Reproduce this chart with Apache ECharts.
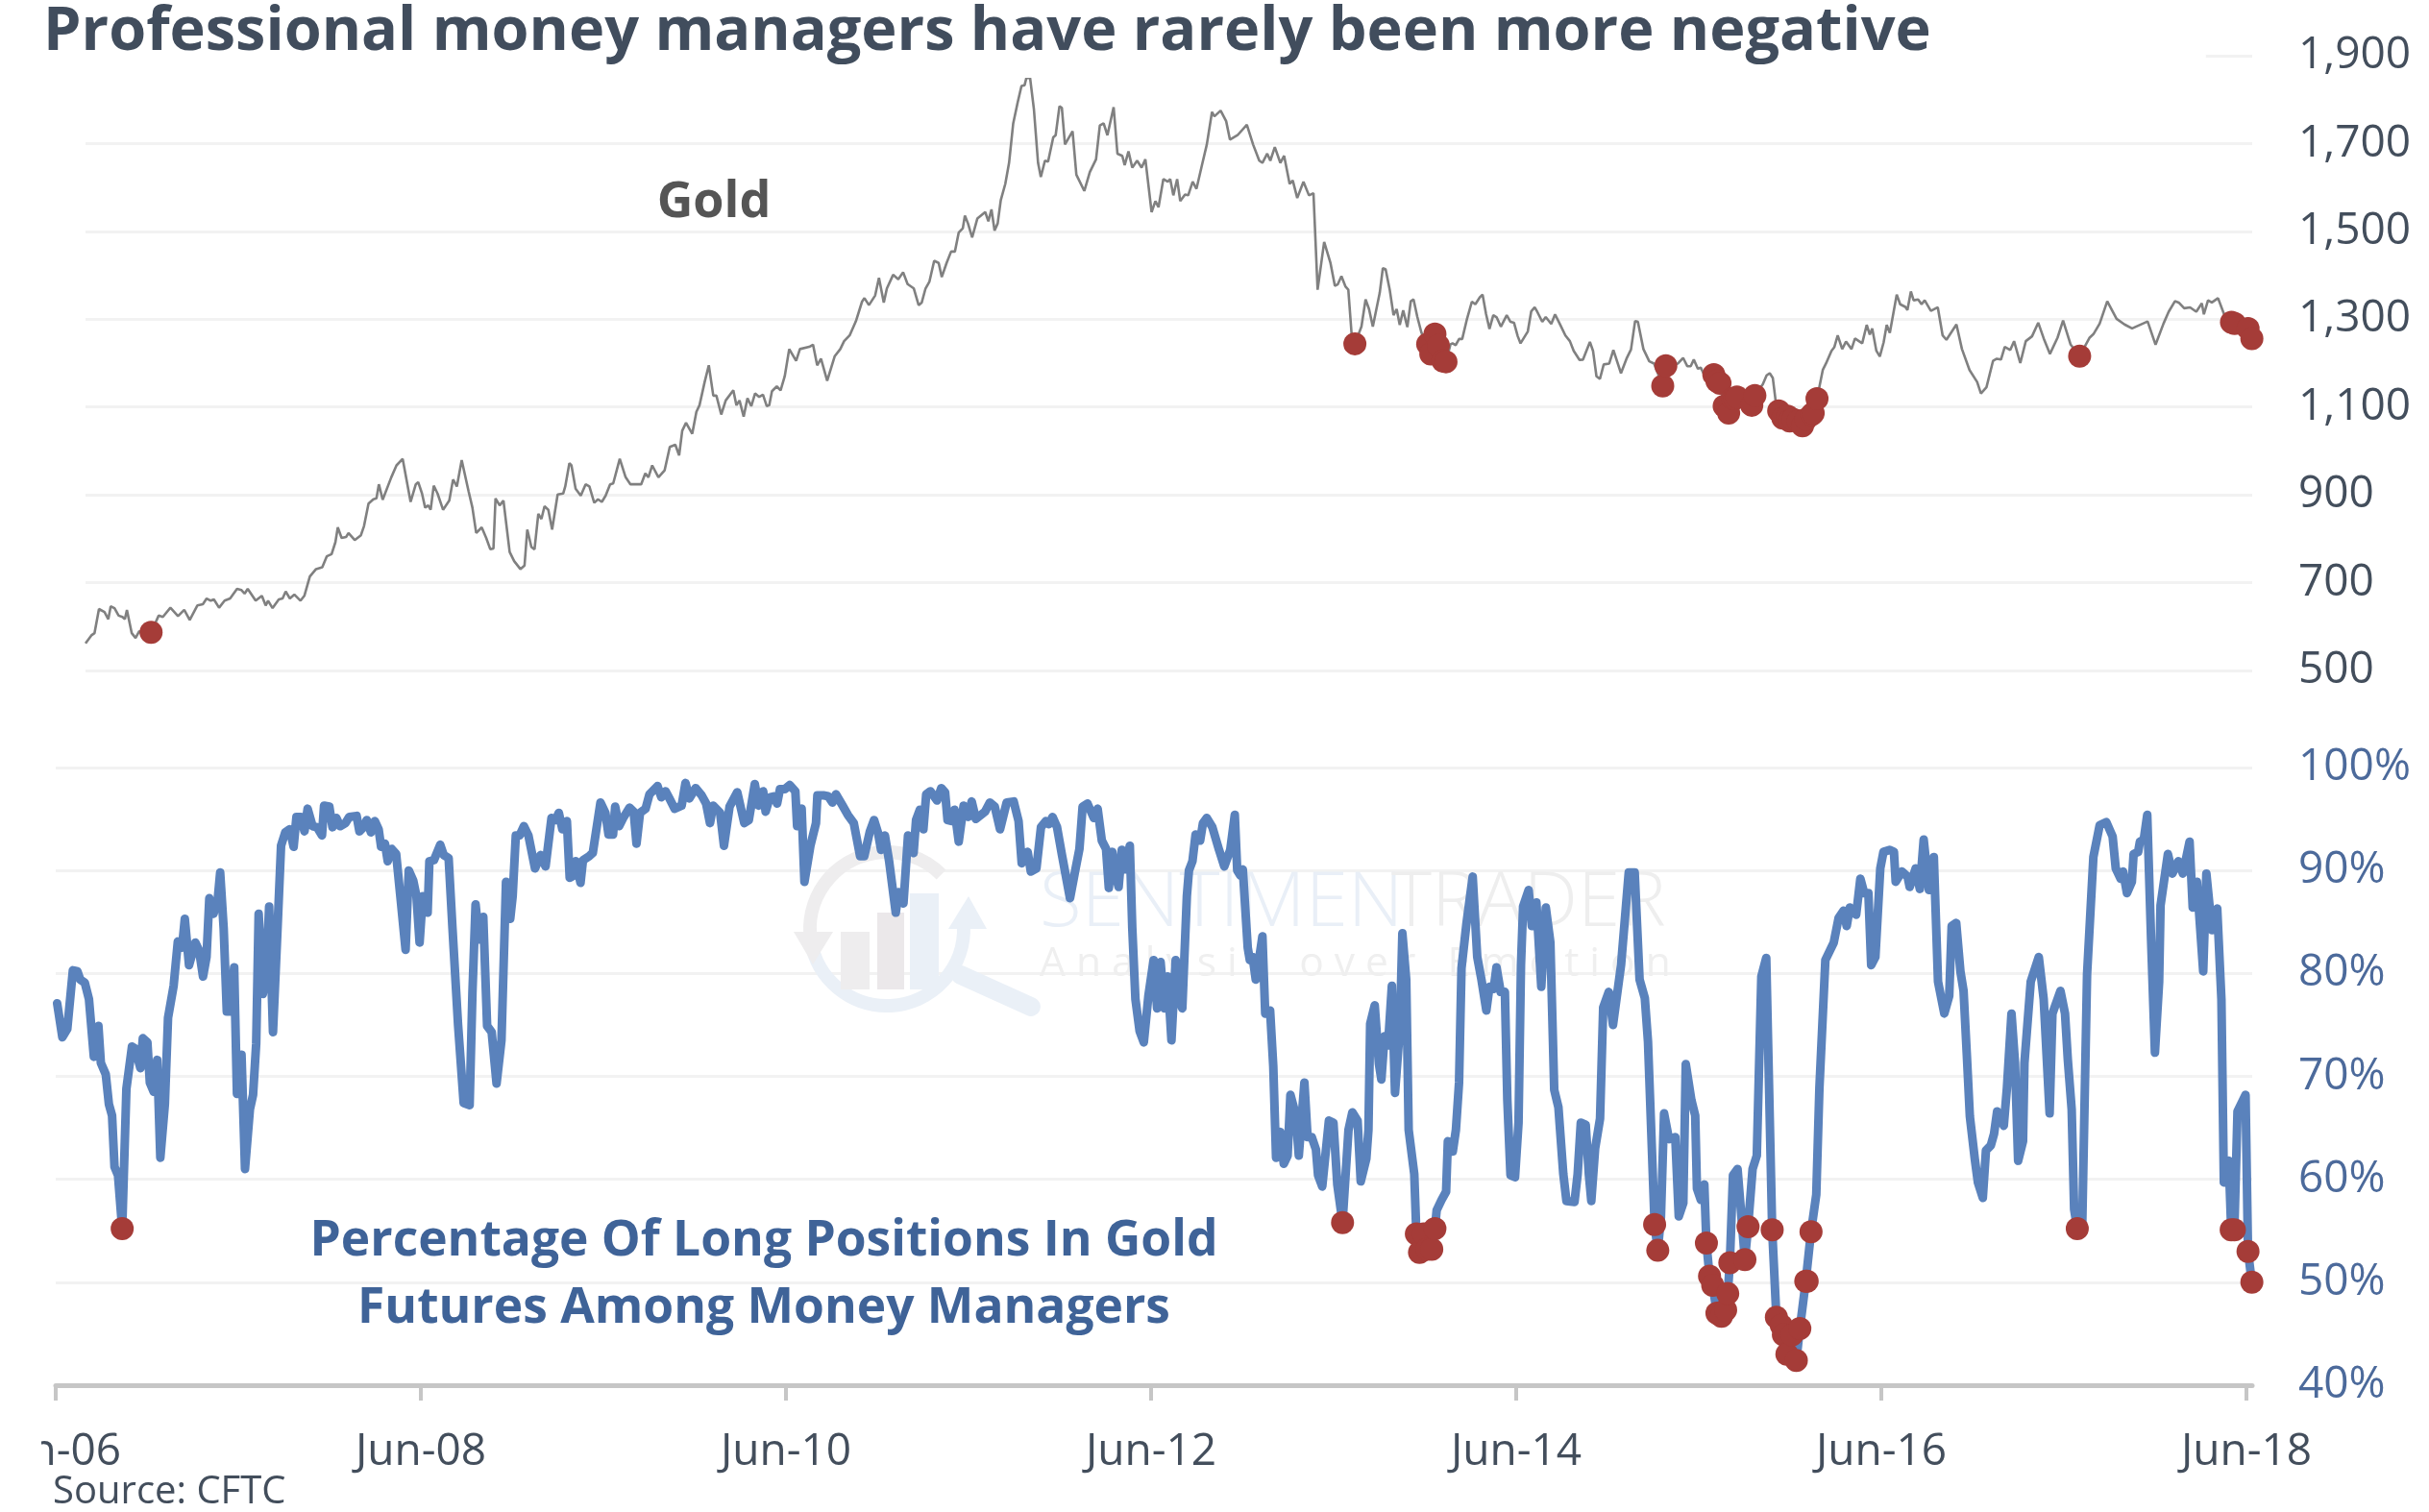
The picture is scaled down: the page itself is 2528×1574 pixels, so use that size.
<!DOCTYPE html>
<html><head><meta charset="utf-8">
<style>html,body{margin:0;padding:0;background:#fff}#c{width:2528px;height:1574px}</style>
<script src="https://cdn.jsdelivr.net/npm/echarts@6/dist/echarts.min.js"></script>
</head><body><div id="c"></div>
<script>
const titleText = 'Professional money managers have rarely been more negative';
const goldLabel = 'Gold';
const pctLabelLines = ['Percentage Of Long Positions In Gold', 'Futures Among Money Managers'];
const sourceText = 'Source: CFTC';
const tickLabels = ['Jun-06','Jun-08','Jun-10','Jun-12','Jun-14','Jun-16','Jun-18'];
const tickWeeks = [0,104.36,208.72,313.08,417.44,521.8,626.16];
const lastWeek = 627.8;

// [week since Jun-06, gold price]
const goldPoints = [[0,562],[1.7,580],[2.6,585],[3.9,640],[5.5,633],[6.6,617],[7.3,646],[8.4,642],[9.6,625],[10.7,622],[11.4,617],[12,638],[13.4,585],[14.5,574],[15.6,590],[16.7,580],[19,587],[21.2,625],[22.4,622],[24.6,643],[26.8,624],[28.6,638],[30.2,615],[32.4,648],[34,651],[35.1,664],[36.3,659],[37.2,662],[38.7,643],[40.3,659],[41.9,664],[43.9,686],[45.2,683],[46.1,675],[47,686],[49.3,659],[51.1,670],[52.2,648],[52.9,659],[54.2,642],[56,662],[57.1,664],[58,680],[59.2,664],[60.5,673],[62.3,659],[63.4,670],[65,714],[66.8,731],[68.6,735],[69.9,760],[71.3,765],[72.4,792],[73.1,826],[74.2,802],[75.5,804],[76.2,813],[78,797],[79.8,808],[80.7,829],[82,880],[83.4,890],[84.3,892],[85,924],[86.1,889],[88.6,940],[90.1,967],[91.9,982],[94.2,884],[95.7,924],[96.4,929],[97.5,903],[98.4,871],[99.3,876],[100,866],[100.9,921],[102,903],[103.6,866],[105.4,887],[106.5,935],[107.6,919],[109,979],[111,908],[112.1,871],[113.2,813],[114.8,826],[116.1,802],[117.3,776],[118.2,778],[118.8,892],[120,876],[121.1,887],[122.9,770],[124.2,749],[126,731],[127.2,739],[128,821],[129.2,781],[130.1,776],[131.2,857],[132.1,845],[133,874],[134.1,866],[135.2,821],[136.8,901],[138.4,903],[139,919],[140.2,972],[140.8,967],[142,914],[143.5,898],[144.9,924],[146,919],[147.4,882],[148.5,890],[149.6,884],[150.7,898],[152,924],[152.9,926],[154.8,982],[156.5,940],[157.9,924],[161,924],[162.2,949],[163.1,940],[164.2,967],[166,940],[167.8,956],[169.3,1009],[170.9,1014],[172,990],[172.9,1046],[174,1064],[175.8,1039],[177,1089],[177.9,1104],[179.4,1157],[180.6,1195],[181.9,1126],[182.8,1126],[184.2,1083],[185.5,1115],[187.7,1138],[188.6,1104],[189.5,1115],[190.7,1078],[191.8,1120],[192.9,1102],[194,1131],[195.2,1123],[196.3,1128],[197.4,1102],[198.1,1104],[198.9,1136],[200.3,1147],[201.4,1138],[202.6,1170],[203.9,1232],[205.9,1205],[207,1232],[209.7,1237],[210.8,1242],[212,1195],[213.1,1210],[214.9,1160],[217.1,1216],[218.7,1232],[219.8,1250],[221.4,1263],[223.2,1295],[225,1340],[225.7,1348],[227,1332],[228.8,1354],[229.9,1394],[231.3,1338],[232.2,1370],[234,1401],[235.5,1391],[236.9,1407],[238.2,1380],[240,1370],[241.4,1332],[242.3,1338],[243.4,1370],[244.5,1385],[245.9,1433],[247.2,1428],[248.1,1396],[249.5,1428],[250.8,1454],[251.9,1454],[253,1497],[254.2,1507],[254.8,1536],[255.7,1518],[256.9,1486],[258.4,1529],[260.7,1544],[261.6,1523],[262.5,1550],[263.4,1502],[264.3,1518],[265.2,1571],[266.5,1608],[267.6,1656],[268.8,1746],[270.1,1794],[271.2,1831],[272.1,1833],[272.6,1849],[273.7,1849],[274.8,1778],[276,1656],[276.8,1624],[278,1661],[278.9,1659],[280.4,1714],[281.1,1719],[282.2,1785],[282.9,1781],[283.8,1698],[286,1728],[287.1,1629],[289.4,1592],[291,1635],[292.8,1664],[293.9,1741],[295,1746],[296.1,1719],[297.9,1783],[299,1677],[300.4,1672],[301.1,1651],[302.2,1682],[303.3,1645],[304.7,1661],[306,1645],[307.1,1664],[308.9,1544],[310,1569],[310.9,1555],[312.3,1619],[313.6,1613],[314.3,1619],[315.2,1582],[316.3,1619],[317.2,1569],[318.6,1584],[319.5,1582],[320.8,1613],[321.9,1597],[323.5,1651],[324.9,1698],[326.4,1772],[327.1,1762],[328.9,1775],[330.5,1751],[331.6,1709],[333.8,1719],[336.5,1743],[338.3,1698],[340.1,1661],[341,1656],[342.4,1677],[343.3,1661],[344.6,1692],[346.2,1656],[347.3,1672],[348.9,1608],[349.8,1616],[351.1,1576],[352.9,1613],[354.5,1582],[355.8,1587],[357,1367],[358.9,1476],[360.7,1429],[362,1376],[362.8,1379],[363.9,1398],[365.1,1374],[365.9,1367],[366.9,1261],[367.8,1244],[369.7,1283],[370.9,1345],[371.9,1323],[373,1283],[375,1360],[375.9,1416],[376.7,1414],[377.9,1367],[379,1309],[379.9,1323],[380.8,1287],[381.8,1320],[383,1282],[384,1341],[384.8,1345],[385.9,1305],[387.1,1269],[388.9,1243],[389.8,1221],[391,1266],[392,1240],[393.3,1205],[394.2,1203],[395.5,1243],[396.1,1245],[397,1241],[398,1255],[398.9,1255],[400.2,1298],[401.7,1340],[402.7,1334],[404,1350],[404.8,1356],[405.8,1312],[406.8,1278],[407.9,1309],[408.9,1304],[410.1,1283],[411.8,1309],[412.9,1294],[413.9,1292],[415,1261],[415.8,1245],[417.9,1272],[418.9,1318],[419.9,1327],[420.7,1316],[422.1,1294],[423.1,1305],[424.7,1289],[425.8,1311],[427.2,1289],[428.8,1263],[430.1,1250],[431.2,1228],[432.9,1207],[433.9,1208],[435.9,1248],[436.8,1228],[437.8,1170],[438.8,1164],[439.9,1197],[441.5,1199],[442.7,1230],[444.9,1177],[446.5,1210],[447.8,1231],[449,1296],[449.8,1294],[451.4,1232],[453.1,1204],[454.5,1199],[457,1148],[457.9,1194],[461.4,1199],[462.9,1212],[464.1,1193],[465.1,1193],[466,1208],[467.2,1187],[468,1190],[468.8,1177],[471.8,1174],[472.7,1159],[473.6,1154],[474.8,1102],[476.1,1086],[477.3,1119],[477.9,1119],[478.5,1123],[481.3,1137],[482.8,1104],[483.7,1126],[486,1152],[487.1,1172],[488,1177],[488.9,1166],[489.7,1115],[490.6,1091],[491.8,1075],[493.2,1079],[493.8,1068],[494.8,1072],[496.3,1068],[497.5,1057],[498.5,1072],[500.2,1083],[500.6,1086],[501.7,1119],[503.4,1185],[504.3,1199],[505.9,1228],[506.7,1236],[507.7,1263],[509,1232],[510.1,1249],[511.7,1232],[512.7,1256],[514.8,1245],[516.1,1287],[517,1265],[517.7,1279],[518.9,1228],[519.9,1215],[521,1247],[521.9,1287],[522.8,1269],[524.8,1356],[525.8,1334],[527.3,1328],[527.9,1321],[528.9,1363],[529.7,1343],[531,1345],[532,1334],[532.9,1343],[534.7,1319],[536.7,1327],[538.1,1263],[539.2,1253],[542.1,1288],[543.7,1232],[545.9,1184],[548.1,1157],[549.2,1131],[550.8,1145],[552.7,1205],[553.8,1210],[555,1208],[556.1,1237],[557.7,1230],[558.8,1250],[560.6,1200],[562.2,1250],[564,1261],[565.8,1292],[567.4,1256],[569.2,1221],[571.4,1258],[573,1297],[575.2,1242],[577.8,1216],[580.7,1258],[581.8,1266],[583.6,1290],[585.8,1341],[588.5,1301],[590.8,1288],[593,1279],[597.5,1295],[599.8,1242],[602.1,1290],[603.6,1317],[605.4,1341],[606.5,1338],[608.1,1325],[609.8,1327],[611.6,1317],[613.2,1336],[613.8,1311],[615,1343],[616.1,1338],[617.9,1348],[619.9,1306],[621.8,1293],[622.7,1290],[624.5,1285],[626.6,1279],[627.7,1256]];

// [week since Jun-06, percent long]
const pctPoints = [[0.4,77.1],[1.9,73.8],[3.3,74.6],[4.9,80.3],[6.2,80.2],[7,79.4],[8.3,79.1],[9.5,77.5],[10.9,71.9],[12.2,74.9],[12.9,71.3],[14.3,70.2],[15.2,67.3],[16.1,66.2],[16.8,61.2],[17.8,60.4],[19,55.2],[20.2,68.8],[21.8,72.9],[22.7,72.7],[24.2,70.8],[24.9,73.7],[26.2,73.3],[26.9,69.4],[28,68.5],[29,71.6],[29.9,62.1],[31.2,67.3],[32.1,75.7],[33.7,78.8],[34.9,83.1],[36.1,82.5],[36.9,85.3],[38.1,80.8],[39.9,83],[41,82.2],[42.1,79.7],[43.1,81.6],[43.9,87.3],[45.1,85.8],[46.3,87.2],[47,89.8],[48,84.4],[48.9,76.3],[50,76.3],[51,80.6],[51.8,68.3],[53.1,72.1],[54.1,61],[55.5,66.8],[56.4,68.2],[57.3,73.2],[58,85.8],[59.2,78],[60.1,79.7],[61,86.5],[62.1,74.3],[63.4,84.4],[64.4,92.4],[65.6,93.7],[66.9,94],[68,92.3],[68.8,95.2],[70.1,95.2],[71.1,93.8],[72,96],[73.4,94.3],[74.7,94.2],[76.1,93.4],[76.7,96.3],[78.2,96.2],[79.1,94.2],[80.2,95.1],[81.3,94.3],[82.8,94.6],[83.9,95.2],[86,95.3],[86.8,93.8],[88,94.2],[88.9,94.9],[90.1,93.7],[91.2,94.8],[92.3,94],[93,92.3],[94.1,92.6],[94.9,90.9],[96,92.1],[97.3,91.6],[98.5,87.5],[100,82.3],[100.9,90],[102.2,89],[103.1,87.5],[104,83],[104.9,87.5],[106.3,85.9],[106.8,90.9],[108.1,91],[109.9,92.5],[110.9,91.5],[112.3,91.2],[113.4,84.4],[115,75],[116.6,67.4],[118.3,67.2],[119.1,78.1],[120,86.7],[121,83.3],[122.2,85.5],[123.3,74.9],[124.6,74.3],[126,69.3],[127.4,73.5],[128.7,88.9],[129.9,85.3],[130.6,87.5],[131.5,93.4],[132.6,93.4],[133.8,94.3],[135.1,93.4],[137,90.2],[138.6,91.5],[140,90.4],[141.7,95.1],[142.9,94.9],[143.8,95.6],[144.8,94],[146.1,94.8],[146.9,89.3],[148,89.5],[148.6,90.9],[150,88.8],[150.7,91],[152.5,91.4],[153.5,91.7],[155.7,96.6],[157.1,95.6],[158,93.5],[159.3,93.5],[159.9,96.2],[161,94.3],[162.2,95.1],[164,96.1],[165.2,95.7],[166,92.6],[167,95.6],[168.6,96],[169.7,97.4],[172,98.2],[173.1,97.1],[174.3,97.7],[175.4,97],[176.9,96],[178.9,96.3],[180,98.5],[181.1,97],[182.9,98],[184.6,97.3],[185.9,96.5],[187,94.6],[187.9,96.3],[189.9,95.6],[191,92.4],[192.6,96.2],[194.8,97.6],[196.8,94.6],[198.1,94.9],[199.8,98.4],[200.9,96.3],[202.2,97.7],[202.9,95.7],[204.1,97.1],[205.2,97.2],[206.2,96.5],[207,97.9],[208.4,97.9],[209.8,98.3],[211.4,97.7],[211.9,94.3],[213.2,96],[214,88.9],[215.7,92.4],[217.3,94.6],[217.7,97.3],[219.4,97.3],[220.8,97.2],[222,96.6],[223,97.4],[224.9,96.3],[226.4,95.4],[228.1,94.6],[229.9,91.4],[231.1,91.4],[232.7,93.8],[233.9,94.9],[235,93.7],[235.9,92],[237,93.4],[238.2,90.9],[240.1,85.9],[240.9,87.9],[242.3,86.8],[243.6,93.4],[245.2,91.7],[245.9,94.9],[247,95.9],[248,94],[248.8,97.4],[250,97.7],[251.9,96.8],[253.1,98],[254.2,97.6],[254.9,94.9],[256,94.8],[256.9,95.9],[258.1,92.8],[259.5,96.3],[260.8,95.2],[261.8,96.7],[263,95],[265.6,95.7],[267,96.6],[268.4,96.2],[269.9,94],[271.8,96.6],[273.8,96.7],[275.2,94.8],[276.1,90.7],[277.8,91.8],[278.7,89.9],[280.3,90.2],[281.6,94.2],[283,94.8],[283.9,94.5],[284.9,95.2],[286.2,94.2],[287.6,91.5],[289.9,87.3],[291.4,90],[292.6,92.1],[293.5,96.2],[294.9,96.5],[296.7,95.1],[297.8,96],[299,92.9],[300.2,92.1],[301,88.3],[302,91.8],[302.9,89.6],[303.8,88.4],[304.7,92],[305.7,90.1],[307,92.4],[307.7,84.4],[308.6,77.5],[309.8,74.4],[311,73.3],[312.3,77.8],[313.8,81.3],[314.8,76.6],[315.8,81.1],[316.9,76.6],[317.8,79.7],[318.9,73.5],[320.1,81.3],[321,77.5],[322,76.6],[323.3,87.5],[323.9,90],[324.9,90.9],[325.8,93.5],[327.1,92.9],[327.9,94.6],[329,95.1],[330.6,94.2],[332.5,92],[334,90.4],[335.7,92],[337,95.4],[337.7,90],[338.6,89.5],[339.3,90.1],[340.7,82.5],[341.3,81.3],[342.1,81.6],[343,79.4],[343.9,81.3],[344.9,83.6],[345.7,76.1],[347.1,76.4],[348,71],[348.8,62.1],[350,64.6],[351,61.5],[352.1,62.3],[352.9,68.2],[354.4,66.3],[355.3,62.3],[356.9,69.4],[357.8,64.1],[359,64.1],[360.2,62.9],[360.8,60.4],[362,59.3],[363.9,65.7],[365.2,65.5],[366.3,59.5],[367.8,55.8],[369.5,64.8],[370.6,66.5],[372.1,65.7],[373,59.8],[374.6,62],[375.2,64.8],[375.7,75.1],[377,76.9],[378.2,71.2],[378.9,69.7],[379.8,73.9],[380.8,73],[381.9,78.8],[382.8,68.4],[384.2,74.8],[384.9,83.9],[386,79.4],[386.7,64.8],[388.3,60.5],[388.9,54.7],[389.8,52.9],[391,54.7],[392,53.2],[393.3,53.2],[394.2,55.2],[394.7,57],[396.1,58],[397.4,58.8],[397.9,63.7],[399.3,62.7],[400.2,64.8],[401.1,69.4],[401.8,80.5],[403.2,84.8],[405,89.4],[406.3,81.6],[407.5,79.4],[408.9,76.4],[409.8,78.7],[411,78.5],[411.8,80.6],[413,78.2],[414.2,78.2],[414.9,67.7],[415.8,60.4],[417.1,60.2],[418.1,65.5],[418.8,80.8],[419.4,86.5],[421,88.1],[421.9,84.6],[423.2,86.9],[424.6,78.7],[425.9,86.4],[427.2,83],[428.3,68.7],[429.5,67],[430.9,60.5],[431.8,57.9],[434.1,57.8],[435,60.5],[435.9,65.5],[437.3,65.3],[438.2,60.5],[438.9,57.9],[440,63],[441.4,65.9],[442.3,76.7],[443.9,78.2],[445.1,75],[447.4,80.8],[449.6,89.8],[451.3,89.8],[452.7,79.4],[454.2,77.6],[455.1,73.4],[457,55.6],[457.9,53.1],[458.8,56.3],[459.7,66.4],[461.1,63.9],[462.9,64.1],[463.9,56.4],[465.2,57.7],[465.9,71.2],[467.5,67.7],[468.6,66.2],[469.1,59.1],[470.2,58],[471.2,59.5],[471.8,53.8],[472.7,50.6],[473.6,49.7],[474.8,47],[476.1,46.7],[477.3,47.3],[477.9,48.9],[478.5,51.9],[479.4,60.4],[480.7,61],[482.8,52.2],[483.7,55.4],[485,61],[486.2,62.3],[487.5,79.7],[488.9,81.5],[490.6,55.1],[491.8,46.6],[493.2,45.8],[493.8,44.9],[494.8,43],[496.3,44.9],[497.5,42.4],[498.5,45.5],[500.2,50.1],[500.6,50.1],[501.7,54.9],[503.2,58.5],[504.1,68.9],[505.8,81.3],[508.2,83],[509.6,85.4],[511,86.1],[511.9,84.6],[512.8,86.4],[514.6,85.7],[515.8,89.2],[516.9,87.8],[518.1,87.8],[518.9,80.8],[520.1,81.6],[521.5,90.2],[522.4,91.8],[524.2,92],[525.4,91.8],[525.9,88.9],[527.7,89.9],[529.3,89.4],[529.9,88.4],[531.6,90.2],[532.8,88.2],[533.9,93],[535.4,88.1],[536.8,91.3],[538,79.2],[539.8,76.1],[541.2,77.8],[541.9,84.6],[543.2,84.9],[544.4,80.2],[545.3,78.3],[546.2,72.3],[547.1,66.1],[548.5,62],[549.4,59.7],[550.8,58.2],[551.7,62.8],[553.1,63.3],[554,64.4],[554.9,66.6],[556.8,65.2],[557.7,68.9],[559,76.1],[560,71.3],[560.9,61.8],[562.3,63.7],[562.7,71.3],[564.5,79.2],[566.8,81.6],[568.2,77.5],[569.9,66.4],[570.7,76.1],[573,78.3],[574.3,76.1],[575.1,71.6],[576.2,66.8],[576.9,57.1],[577.8,55.2],[579.2,55.2],[580.6,79.9],[582.4,91.3],[584.2,94.4],[586.1,94.7],[587.9,93.3],[588.8,90.2],[590.2,89.2],[590.9,89.9],[592,87.8],[593.4,88.9],[593.9,91.6],[595.2,91.8],[595.7,92.8],[596.8,93],[597.8,95.4],[598.9,83.3],[600,72.3],[601.2,79.2],[601.6,86.6],[603.7,91.6],[605,89.7],[606.7,90.9],[608,89.7],[609.9,92.8],[610.8,86.4],[612,88.9],[613.8,80.2],[614.7,89.7],[616.3,84.2],[617.8,86.3],[619,77.5],[619.7,59.7],[621.1,61.8],[621.8,55.1],[622.7,55.1],[623.6,66.6],[625.9,68.2],[626.6,53],[627.7,50]];

const signalWeeks = [19,367.8,388.9,389.8,391,392,393.3,394.2,457,457.9,471.8,472.7,473.6,474.8,476.1,477.3,477.9,478.5,482.8,483.7,490.6,491.8,493.2,493.8,494.8,496.3,497.5,498.5,500.2,500.6,501.7,577.8,621.8,622.7,626.6,627.7];
const signalPct = [55.2,55.8,54.7,52.9,54.7,53.2,53.2,55.2,55.6,53.1,53.8,50.6,49.7,47,46.7,47.3,48.9,51.9,52.2,55.4,55.1,46.6,45.8,44.9,43,44.9,42.4,45.5,50.1,50.1,54.9,55.2,55.1,55.1,53,50];
const signalGold = [587,1244,1243,1221,1266,1240,1205,1203,1148,1194,1174,1159,1154,1102,1086,1119,1119,1123,1104,1126,1091,1075,1079,1068,1072,1068,1057,1072,1083,1086,1119,1216,1293,1290,1279,1256];

const FONT = '"Open Sans", sans-serif';
const SLATE = '#434e5c', BLUE_TXT = '#3f6398', LABEL_BLUE = '#4c6a9b', LINE_BLUE = '#5a82bc', RED = '#a53c38', GRID = '#f2f2f2';

const chart = echarts.init(document.getElementById('c'), null, {renderer:'canvas', width:2528, height:1574});
const wmGray = '#eeedee', wmBlue = '#eaf0f7';
chart.setOption({
  animation:false,
  backgroundColor:'#fff',
  title:{text:titleText,left:45,top:0,padding:[0,286,13,0],backgroundColor:'#fff',z:6,
    textStyle:{fontFamily:FONT,fontWeight:'bold',fontSize:63,color:'#414d5d',lineHeight:68}},
  grid:[
    {left:89,right:184,top:58,height:640,outerBoundsMode:'none'},
    {left:58,right:184,top:799,height:643,outerBoundsMode:'none'}
  ],
  xAxis:[
    {gridIndex:0,type:'value',min:0,max:lastWeek,show:false,splitLine:{show:false}},
    {gridIndex:1,type:'value',min:0,max:lastWeek,splitLine:{show:false},
     axisLine:{onZero:false,lineStyle:{color:'#c6c6c6',width:5}},
     axisTick:{length:16,customValues:tickWeeks,lineStyle:{color:'#c6c6c6',width:4}},
     axisLabel:{customValues:tickWeeks,margin:47,fontFamily:FONT,fontSize:46,color:SLATE,hideOverlap:false,
       formatter:v=>tickLabels[tickWeeks.indexOf(v)]||''}}
  ],
  yAxis:[
    {gridIndex:0,type:'value',position:'right',min:500,max:1900,interval:200,
     axisLine:{show:false},axisTick:{show:false},splitLine:{lineStyle:{color:GRID,width:3}},
     axisLabel:{margin:48,padding:[3,0,0,0],fontFamily:FONT,fontSize:46,color:SLATE,formatter:v=>v>=1000?String(v).replace(/(\d)(\d{3})$/,'$1,$2'):String(v)}},
    {gridIndex:1,type:'value',position:'right',min:40,max:100,interval:10,
     axisLine:{show:false},axisTick:{show:false},splitLine:{lineStyle:{color:GRID,width:3}},
     axisLabel:{margin:48,padding:[3,0,0,0],fontFamily:FONT,fontSize:46,color:LABEL_BLUE,formatter:'{value}%'}}
  ],
  series:[
    {type:'line',xAxisIndex:0,yAxisIndex:0,data:goldPoints,showSymbol:false,clip:false,lineStyle:{color:'#808080',width:2.6},z:3},
    {type:'scatter',xAxisIndex:0,yAxisIndex:0,data:signalWeeks.map((w,i)=>[w,signalGold[i]]),symbolSize:24,clip:false,itemStyle:{color:RED,opacity:1},z:4},
    {type:'line',xAxisIndex:1,yAxisIndex:1,data:pctPoints,showSymbol:false,clip:false,lineStyle:{color:LINE_BLUE,width:9,cap:'round',join:'round'},z:3},
    {type:'scatter',xAxisIndex:1,yAxisIndex:1,data:signalWeeks.map((w,i)=>[w,signalPct[i]]),symbolSize:24,clip:false,itemStyle:{color:RED,opacity:1},z:4}
  ],
  graphic:{elements:[
    // watermark
    {type:'arc',z:1,silent:true,shape:{cx:923,cy:967,r:80,startAngle:Math.PI*0.95,endAngle:Math.PI*1.75},style:{stroke:wmGray,lineWidth:14,fill:null}},
    {type:'arc',z:1,silent:true,shape:{cx:923,cy:967,r:80,startAngle:-0.05,endAngle:Math.PI*0.95},style:{stroke:wmBlue,lineWidth:14,fill:null}},
    {type:'polygon',z:1,silent:true,shape:{points:[[826,970],[867,970],[846,1004]]},style:{fill:wmGray}},
    {type:'polygon',z:1,silent:true,shape:{points:[[987,967],[1027,967],[1008,933]]},style:{fill:wmBlue}},
    {type:'rect',z:1,silent:true,shape:{x:875,y:970,width:30,height:60},style:{fill:wmGray}},
    {type:'rect',z:1,silent:true,shape:{x:913,y:950,width:28,height:80},style:{fill:'#ebe8ea'}},
    {type:'rect',z:1,silent:true,shape:{x:947,y:930,width:30,height:100},style:{fill:wmBlue}},
    {type:'line',z:1,silent:true,shape:{x1:1000,y1:1015,x2:1073,y2:1048},style:{stroke:wmBlue,lineWidth:20,lineCap:'round'}},
    {type:'text',z:1,silent:true,style:{x:1082,y:941,text:'SENTIMEN',verticalAlign:'middle',font:'300 80px "Open Sans"',fill:'#e9eff7'}},
    {type:'text',z:1,silent:true,style:{x:1448,y:941,text:'TRADER',verticalAlign:'middle',font:'300 80px "Open Sans"',fill:'#eeeeee'}},
    {type:'text',z:1,silent:true,style:{x:1082,y:1004,text:'A n a l y s i s   o v e r   E m o t i o n',verticalAlign:'middle',font:'400 42.5px "Open Sans"',fill:'#efefef'}},
    // clips the first tick label at the left edge, as in the reference
    {type:'rect',z:100,silent:true,shape:{x:0,y:1478,width:43,height:56},style:{fill:'#fff'}},
    // annotations
    {type:'text',z:20,style:{x:743,y:211,text:goldLabel,align:'center',verticalAlign:'middle',font:'700 52px "Open Sans"',fill:'#555555'}},
    {type:'text',z:20,style:{x:795,y:1292,text:pctLabelLines[0],align:'center',verticalAlign:'middle',font:'700 51.5px "Open Sans"',fill:BLUE_TXT}},
    {type:'text',z:20,style:{x:795,y:1362,text:pctLabelLines[1],align:'center',verticalAlign:'middle',font:'700 51.5px "Open Sans"',fill:BLUE_TXT}},
    {type:'text',z:20,style:{x:55,y:1554,text:sourceText,verticalAlign:'middle',font:'400 40px "Open Sans"',fill:SLATE}}
  ]}
});
</script></body></html>
